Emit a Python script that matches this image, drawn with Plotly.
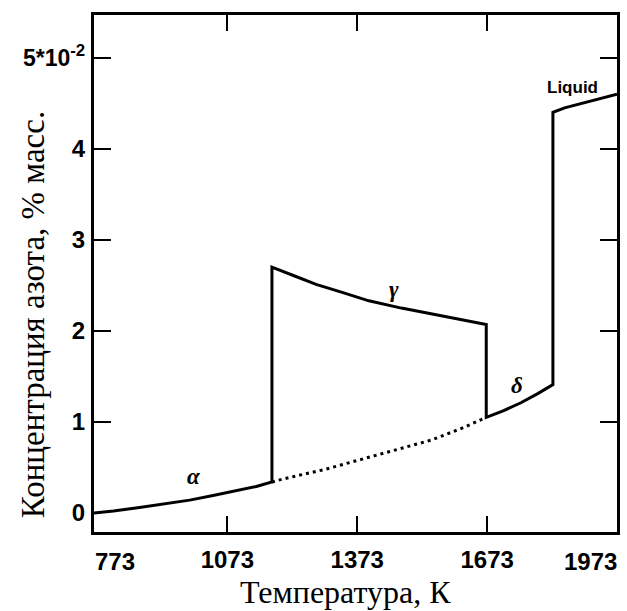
import plotly.graph_objects as go

# ---- data (T in K, N in units of 10^-2 mass %) ----
T_alpha = [765, 810, 870, 930, 986, 1040, 1101, 1140, 1176]
N_alpha = [0.00, 0.02, 0.06, 0.10, 0.14, 0.19, 0.25, 0.29, 0.34]

T_gamma = [1176, 1230, 1278, 1340, 1400, 1475, 1530, 1590, 1671]
N_gamma = [2.70, 2.60, 2.51, 2.42, 2.33, 2.25, 2.20, 2.15, 2.07]

T_dotted = [1176, 1200, 1300, 1353, 1429, 1544, 1620, 1671]
N_dotted = [0.34, 0.37, 0.48, 0.55, 0.65, 0.80, 0.94, 1.05]

T_delta = [1671, 1710, 1751, 1790, 1825]
N_delta = [1.05, 1.12, 1.21, 1.31, 1.41]

T_liquid = [1825, 1852, 1900, 1944, 1973]
N_liquid = [4.40, 4.45, 4.51, 4.57, 4.60]

x_tickvals = [773, 1073, 1373, 1673, 1973]
x_ticktext = ["773", "1073", "1373", "1673", "1973"]
y_tickvals = [0, 1, 2, 3, 4, 5]
y_ticktext = ["0", "1", "2", "3", "4",
              "<span style='font-size:23px'>5*10</span><sup>-2</sup>"]

phase_labels = ["α", "γ", "δ", "Liquid"]
phase_label_T = [997, 1457, 1742, 1870]
phase_label_N = [0.40, 2.45, 1.40, 4.67]

x_title = "Температура, К"
y_title = "Концентрация азота, % масс."

# ---- figure ----
T_path = T_alpha + T_gamma + T_delta + T_liquid
N_path = N_alpha + N_gamma + N_delta + N_liquid

fig = go.Figure()
fig.add_trace(go.Scatter(x=T_path, y=N_path, mode="lines",
                         line=dict(color="black", width=3), hoverinfo="skip"))
fig.add_trace(go.Scatter(x=T_dotted, y=N_dotted, mode="lines",
                         line=dict(color="black", width=3, dash="3px,4px"),
                         hoverinfo="skip"))

tick_font = dict(family="Liberation Sans", size=24, color="black", weight="bold")

fig.update_layout(
    width=627, height=611,
    margin=dict(l=94, r=7, t=15, b=79),
    paper_bgcolor="white", plot_bgcolor="white",
    showlegend=False,
    font=dict(family="Liberation Sans", color="black"),
)
fig.update_xaxes(
    range=[765, 1973],
    showgrid=False, zeroline=False,
    showline=True, linecolor="black", linewidth=3, mirror="ticks",
    tickmode="array", tickvals=x_tickvals[1:-1], ticktext=x_ticktext[1:-1],
    ticks="", tickfont=tick_font, ticklabelstandoff=4,
    minor=dict(tickmode="array", tickvals=x_tickvals[1:-1], ticks="inside",
               ticklen=16, tickwidth=2, tickcolor="black"),
)
fig.update_yaxes(
    range=[-0.21, 5.47],
    showgrid=False, zeroline=False,
    showline=True, linecolor="black", linewidth=3, mirror="ticks",
    tickmode="array", tickvals=y_tickvals, ticktext=y_ticktext,
    ticks="", tickfont=tick_font, ticklabelstandoff=1,
    minor=dict(tickmode="array", tickvals=y_tickvals[1:], ticks="inside",
               ticklen=17, tickwidth=2, tickcolor="black"),
)

# end tick labels of the x axis sit inside the frame
end_font = dict(family="Liberation Sans", size=24, color="black", weight="bold")
fig.add_annotation(x=x_tickvals[0], xref="x", y=0, yref="paper",
                   text=x_ticktext[0], showarrow=False,
                   xanchor="left", yanchor="middle", xshift=-4, yshift=-29,
                   font=end_font)
fig.add_annotation(x=x_tickvals[-1], xref="x", y=0, yref="paper",
                   text=x_ticktext[-1], showarrow=False,
                   xanchor="right", yanchor="middle", xshift=2, yshift=-29,
                   font=end_font)

for i, lab in enumerate(phase_labels):
    if lab == "Liquid":
        f = dict(family="Liberation Sans", size=17, color="black", weight="bold")
        txt = lab
    else:
        f = dict(family="Liberation Serif", size=23, color="black", weight="bold")
        txt = "<i>" + lab + "</i>"
    fig.add_annotation(x=phase_label_T[i], y=phase_label_N[i], text=txt,
                       showarrow=False, font=f)

fig.add_annotation(x=0.48, xref="paper", y=0, yref="paper", text=x_title,
                   showarrow=False, xanchor="center", yanchor="middle", yshift=-60,
                   font=dict(family="Liberation Serif", size=32, color="black"))
fig.add_annotation(x=-0.116, xref="paper", y=0.42, yref="paper", text=y_title,
                   showarrow=False, textangle=-90, xanchor="center", yanchor="middle",
                   font=dict(family="Liberation Serif", size=33, color="black"))

fig.write_html("out.html")
